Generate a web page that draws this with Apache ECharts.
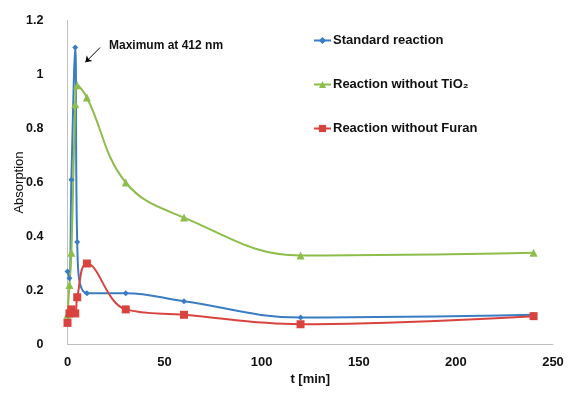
<!DOCTYPE html>
<html>
<head>
<meta charset="utf-8">
<script src="https://cdn.jsdelivr.net/npm/echarts@6/dist/echarts.min.js"></script>
<style>html,body{margin:0;padding:0;background:#fff}#c{width:569px;height:396px}</style>
</head>
<body>
<div id="c"></div>
<script>
const times = [0, 1, 2, 4, 5, 10, 30, 60, 120, 240];
const standardReaction = [0.27, 0.245, 0.61, 1.1, 0.38, 0.19, 0.19, 0.16, 0.10, 0.11];
const withoutTiO2 = [0.11, 0.22, 0.34, 0.89, 0.96, 0.915, 0.60, 0.47, 0.33, 0.34];
const withoutFuran = [0.08, 0.115, 0.13, 0.115, 0.175, 0.30, 0.13, 0.11, 0.075, 0.105];
const xTicks = [0, 50, 100, 150, 200, 250];
const yTicks = [0, 0.2, 0.4, 0.6, 0.8, 1, 1.2];
const seriesNames = ['Standard reaction', 'Reaction without TiO\u2082', 'Reaction without Furan'];

const pair = (ys) => times.map((t, i) => [t, ys[i]]);
const font = '"Liberation Sans", Arial, sans-serif';
const chart = echarts.init(document.getElementById('c'), null, {renderer: 'canvas'});
const axisLineStyle = {color: '#bfbfbf', width: 1};

function mkSeries(name, data, color, symbol, size) {
  return {
    name, type: 'line', data: pair(data), smooth: 0.4,
    symbol, symbolSize: size,
    lineStyle: {color, width: 2},
    itemStyle: {color},
    z: 3
  };
}

const s1 = mkSeries(seriesNames[0], standardReaction, '#3a7dc3', 'diamond', 6);
s1.markLine = {
  silent: true,
  symbol: ['none', 'arrow'], symbolSize: 6,
  lineStyle: {color: '#000', width: 1, type: 'solid'},
  label: {show: false},
  data: [[{coord: [16.8, 1.10]}, {coord: [9.2, 1.045]}]]
};
s1.markPoint = {
  silent: true,
  symbol: 'circle', symbolSize: 0,
  label: {
    show: true, position: 'right', formatter: 'Maximum at 412 nm',
    fontFamily: font, fontWeight: 'bold', fontSize: 12, color: '#111'
  },
  data: [{coord: [18.8, 1.108]}]
};

chart.setOption({
  backgroundColor: '#fff',
  animation: false,
  grid: {left: 67.5, right: 16, top: 20.5, bottom: 51.5, outerBoundsMode: 'none', containLabel: false},
  legend: {
    orient: 'vertical', left: 308, top: 29, itemGap: 31,
    itemWidth: 17, itemHeight: 9,
    textStyle: {fontFamily: font, fontWeight: 'bold', fontSize: 13, color: '#111', padding: [0, 0, 0, -3]},
    data: seriesNames
  },
  xAxis: {
    type: 'value', min: 0, max: 250, interval: 50,
    name: 't [min]', nameLocation: 'middle', nameGap: 28, nameMoveOverlap: false,
    nameTextStyle: {fontFamily: font, fontWeight: 'bold', fontSize: 13, color: '#111'},
    axisLine: {show: true, lineStyle: axisLineStyle},
    axisTick: {show: false}, splitLine: {show: false},
    axisLabel: {fontFamily: font, fontWeight: 'bold', fontSize: 13, color: '#111', margin: 11,
      customValues: xTicks}
  },
  yAxis: {
    type: 'value', min: 0, max: 1.2, interval: 0.2,
    name: 'Absorption', nameLocation: 'middle', nameGap: 42, nameRotate: 90, nameMoveOverlap: false,
    nameTextStyle: {fontFamily: font, fontSize: 13, color: '#111'},
    axisLine: {show: true, lineStyle: axisLineStyle},
    axisTick: {show: false}, splitLine: {show: false},
    axisLabel: {fontFamily: font, fontWeight: 'bold', fontSize: 12.5, color: '#111', margin: 24,
      formatter: (v) => {
        const m = yTicks.find(t => Math.abs(t - v) < 1e-6);
        return m === undefined ? '' : String(m);
      }}
  },
  series: [
    s1,
    mkSeries(seriesNames[1], withoutTiO2, '#8dbd4b', 'triangle', 8),
    mkSeries(seriesNames[2], withoutFuran, '#d8433f', 'rect', 8)
  ]
});
</script>
</body>
</html>
